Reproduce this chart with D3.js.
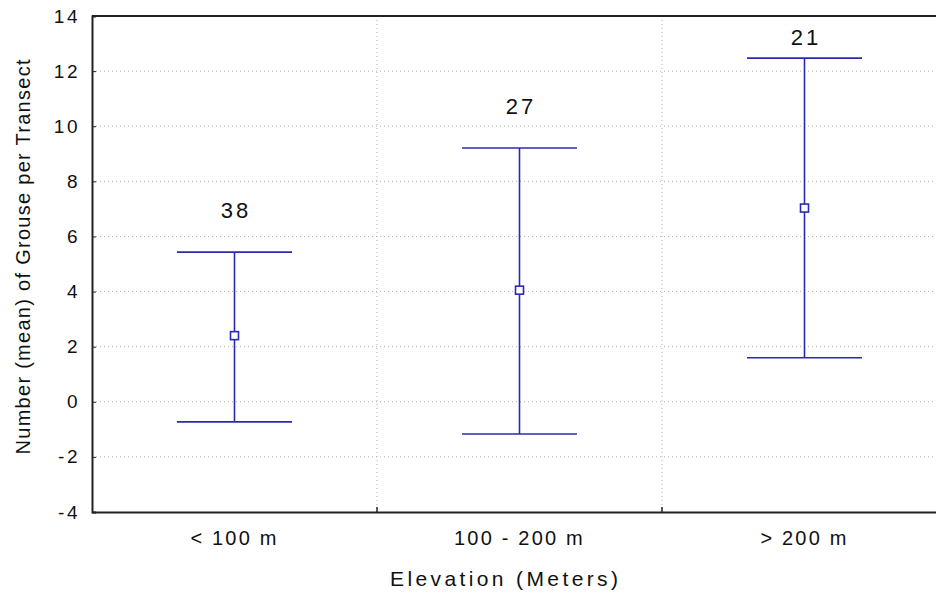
<!DOCTYPE html>
<html><head><meta charset="utf-8">
<script src="https://cdn.jsdelivr.net/npm/d3@7"></script>
<style>body{margin:0;background:#fff}svg{display:block}text{font-family:"Liberation Sans",Arial,sans-serif}</style>
</head><body><svg id="c" width="936" height="596"></svg>
<script>
const categories = ["< 100 m", "100 - 200 m", "> 200 m"];
const means = [2.4, 4.05, 7.03];
const upper = [5.43, 9.21, 12.47];
const lower = [-0.73, -1.17, 1.6];
const counts = [38, 27, 21];
const yTicks = [-4, -2, 0, 2, 4, 6, 8, 10, 12, 14];

const svg = d3.select("#c");
const m = {l: 92, t: 16, r: -11, b: 84};
const W = 936 - m.l - m.r, H = 596 - m.t - m.b;
const g = svg.append("g").attr("transform", `translate(${m.l},${m.t})`);
const x = d3.scaleBand().domain(categories).range([0, W]);
const y = d3.scaleLinear().domain([-4, 14]).range([H, 0]);
const blue = "#2a2ab0";

// grid
g.selectAll(".hg").data(yTicks.filter(d => d > -4 && d < 14)).enter().append("line")
  .attr("x1", 0).attr("x2", W).attr("y1", d => y(d)).attr("y2", d => y(d))
  .attr("stroke", "#b0b0b0").attr("stroke-dasharray", "1,3");
g.selectAll(".vg").data(categories.slice(1)).enter().append("line")
  .attr("x1", d => x(d)).attr("x2", d => x(d)).attr("y1", 0).attr("y2", H)
  .attr("stroke", "#b0b0b0").attr("stroke-dasharray", "1,3");

// axes
const ya = g.append("g").call(d3.axisLeft(y).tickValues(yTicks).tickSize(-4).tickPadding(12)
  .tickFormat(d => String(d)));
ya.select(".domain").attr("stroke", "#222").attr("stroke-width", 2);
ya.selectAll("text").attr("font-size", 19).attr("letter-spacing", 2.5).attr("fill", "#111");
ya.selectAll(".tick line").attr("stroke", "#222");
const xa = g.append("g").attr("transform", `translate(0,${H})`)
  .call(d3.axisBottom(x).tickSize(0).tickPadding(19));
xa.select(".domain").attr("stroke", "#222").attr("stroke-width", 2);
xa.selectAll("text").attr("font-size", 20).attr("letter-spacing", 2.2).attr("fill", "#111");
g.selectAll(".xt").data(categories.slice(1)).enter().append("line")
  .attr("x1", d => x(d)).attr("x2", d => x(d)).attr("y1", H).attr("y2", H - 5)
  .attr("stroke", "#222").attr("stroke-width", 1.5);
g.append("line").attr("x1", 0).attr("x2", W).attr("y1", 0).attr("y2", 0)
  .attr("stroke", "#222").attr("stroke-width", 2);

// error bars
const cx = d => x(d) + x.bandwidth() / 2;
const hw = 57.5;
categories.forEach((c, i) => {
  const X = cx(c);
  g.append("line").attr("x1", X).attr("x2", X).attr("y1", y(upper[i])).attr("y2", y(lower[i]))
    .attr("stroke", blue).attr("stroke-width", 1.6);
  [upper[i], lower[i]].forEach(v => g.append("line").attr("x1", X - hw).attr("x2", X + hw)
    .attr("y1", y(v)).attr("y2", y(v)).attr("stroke", blue).attr("stroke-width", 1.6));
  g.append("rect").attr("x", X - 4).attr("y", y(means[i]) - 4).attr("width", 8).attr("height", 8)
    .attr("fill", "#fff").attr("stroke", blue).attr("stroke-width", 1.6);
  const ly = Math.max(y(upper[i]) - 34, 29);
  g.append("text").attr("x", X + 1.5).attr("y", ly).attr("text-anchor", "middle")
    .attr("font-size", 22).attr("letter-spacing", 3).attr("fill", "#111").text(counts[i]);
});

// titles
svg.append("text").attr("x", 504).attr("y", 586).attr("text-anchor", "middle")
  .attr("font-size", 21).attr("textLength", 228).attr("lengthAdjust", "spacing")
  .attr("fill", "#111").text("Elevation (Meters)");
svg.append("text").attr("transform", `translate(30,257) rotate(-90)`).attr("text-anchor", "middle")
  .attr("font-size", 20).attr("textLength", 395).attr("lengthAdjust", "spacing")
  .attr("fill", "#111").text("Number (mean) of Grouse per Transect");
</script></body></html>
